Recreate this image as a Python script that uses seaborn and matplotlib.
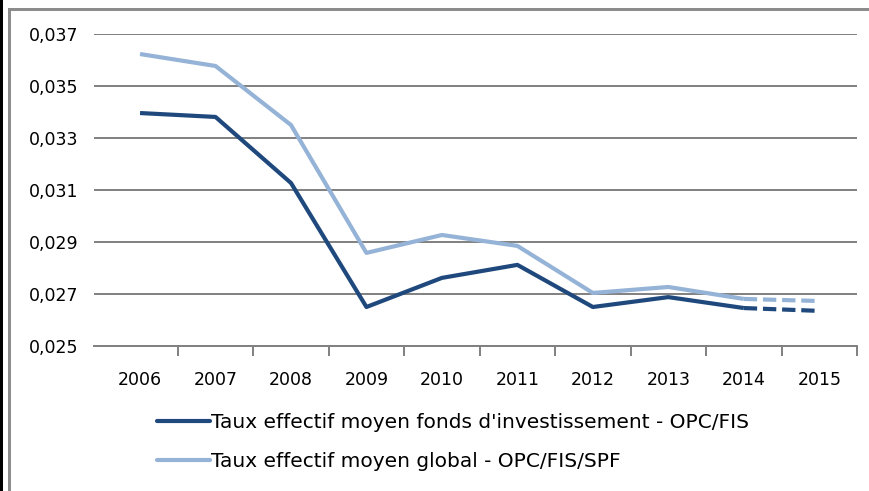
import matplotlib
matplotlib.use("Agg")
import matplotlib.pyplot as plt
import matplotlib.patches as mpatches
import matplotlib.lines as mlines
import pandas as pd
import seaborn as sns

years = ["2006", "2007", "2008", "2009", "2010", "2011", "2012", "2013", "2014", "2015"]
fonds = [0.03396, 0.03381, 0.03127, 0.02650, 0.02762, 0.02812, 0.02650, 0.02688, 0.02646, 0.02635]
glob = [0.03623, 0.03577, 0.03350, 0.02858, 0.02927, 0.02885, 0.02704, 0.02727, 0.02681, 0.02673]
names = ["Taux effectif moyen fonds d'investissement - OPC/FIS",
         "Taux effectif moyen global - OPC/FIS/SPF"]
yticks = [0.025, 0.027, 0.029, 0.031, 0.033, 0.035, 0.037]
colors = ["#1F497D", "#95B3D7"]

rows = []
for name, vals in zip(names, [fonds, glob]):
    for i, (y, v) in enumerate(zip(years, vals)):
        rows.append({"pos": i, "year": y, "serie": name, "taux": v})
df = pd.DataFrame(rows)
solid = df[df["pos"] <= 8]
dashed = df[df["pos"] >= 8]

sns.set_style("white")
plt.rcParams["font.family"] = ["DejaVu Sans"]
plt.rcParams["text.color"] = "black"
plt.rcParams["xtick.color"] = "black"
plt.rcParams["ytick.color"] = "black"

fig = plt.figure(figsize=(8.69, 4.91), dpi=100)
ax = fig.add_axes([94 / 869, 1 - 346 / 491, (857 - 94) / 869, (346 - 34) / 491])

pal = dict(zip(names, colors))
sns.lineplot(data=solid, x="pos", y="taux", hue="serie", palette=pal, lw=3,
             ax=ax, legend=False, solid_capstyle="butt")
for name in names:
    sub = dashed[dashed["serie"] == name]
    sns.lineplot(data=sub, x="pos", y="taux", color=pal[name], lw=3,
                 dashes=False, ax=ax, legend=False)
    ax.lines[-1].set_linestyle((0, (3.2, 1.4)))

ax.set_ylim(0.025, 0.037)
ax.set_xlim(-0.61, 9.5)
ax.set_yticks(yticks)
ax.set_yticklabels([f"{t:.3f}".replace(".", ",") for t in yticks], fontsize=12.5)
ax.yaxis.grid(True, color="#808080", lw=1.4)
ax.tick_params(axis="y", length=0, pad=11)

ax.set_xticks([i + 0.5 for i in range(len(years))])
ax.set_xticklabels([])
ax.set_xticks(range(len(years)), minor=True)
ax.set_xticklabels(years, minor=True, fontsize=12.5)
ax.tick_params(axis="x", which="major", length=7, color="#808080", width=1.4, direction="out")
ax.tick_params(axis="x", which="minor", length=0, pad=18)
ax.xaxis.set_ticks_position("bottom")
ax.set_xlabel("")
ax.set_ylabel("")
for s in ["top", "right", "left"]:
    ax.spines[s].set_visible(False)
ax.spines["bottom"].set_color("#808080")
ax.spines["bottom"].set_linewidth(1.4)

handles = [mlines.Line2D([], [], color=c, lw=3) for c in colors]
fig.legend(handles, names, loc="upper left", bbox_to_anchor=(157 / 869, 1 - 413 / 491),
           frameon=False, fontsize=14.5, handlelength=2.65, handletextpad=0.05,
           labelspacing=1.0, borderaxespad=0, borderpad=0)

# cadre de la capture
fig.add_artist(mpatches.Rectangle((0, 0), 2.5 / 869, 1, transform=fig.transFigure,
                                  color="black", lw=0))
fig.add_artist(mpatches.Rectangle((8 / 869, 0), 2.5 / 869, 1 - 8 / 491,
                                  transform=fig.transFigure, color="#8C8C8C", lw=0))
fig.add_artist(mpatches.Rectangle((8 / 869, 1 - 10.5 / 491), 1, 2.5 / 491,
                                  transform=fig.transFigure, color="#8C8C8C", lw=0))

fig.savefig("out.png", dpi=100)
